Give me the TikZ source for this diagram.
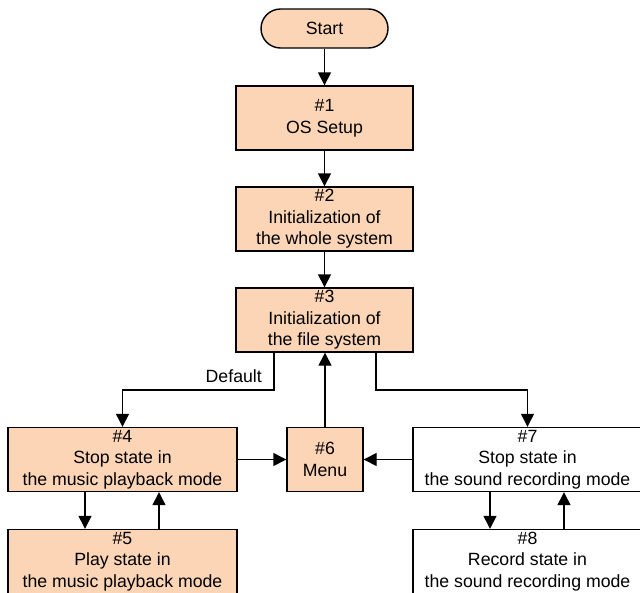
\documentclass[tikz,border=0pt]{standalone}
\usepackage{fontspec}
\setmainfont{Liberation Sans}
\usetikzlibrary{arrows.meta}
\definecolor{peach}{HTML}{FBD5B5}
\tikzset{
  box/.style={draw=black, line width=1.4pt, minimum width=177pt, minimum height=64pt, align=center, inner sep=1pt, font=\fontsize{17.7}{21.5}\selectfont},
  filled/.style={box, fill=peach},
  wide/.style={minimum width=229pt},
  arr/.style={line width=1.4pt, -{Triangle[length=13pt,width=13pt]}},
  ln/.style={line width=1.4pt}
}
\begin{document}
\begin{tikzpicture}[x=1pt,y=-1pt]
\useasboundingbox (0,0) rectangle (640,592);
\fill[white] (0,0) rectangle (640,592);
\node[filled, minimum width=127pt, minimum height=39pt, rounded corners=19.5pt] (start) at (324.5,28.5) {Start};
\node[filled] (n1) at (324.5,118) {\#1\\OS Setup};
\node[filled] (n2) at (324.5,219) {\#2\\Initialization of\\the whole system};
\node[filled] (n3) at (324.5,320) {\#3\\Initialization of\\the file system};
\node[filled, wide] (n4) at (122.5,459.5) {\#4\\Stop state in\\the music playback mode};
\node[filled, minimum width=76pt] (n6) at (325,459.5) {\#6\\Menu};
\node[box, wide, fill=white] (n7) at (527.5,459.5) {\#7\\Stop state in\\the sound recording mode};
\node[filled, wide] (n5) at (122.5,561.5) {\#5\\Play state in\\the music playback mode};
\node[box, wide, fill=white] (n8) at (527.5,561.5) {\#8\\Record state in\\the sound recording mode};
\node[font=\fontsize{17.7}{21.5}\selectfont, anchor=east, inner sep=0pt] (deflab) at (262,376) {Default};

\coordinate (dl) at (274,390);
\coordinate (dr) at (376,390);
\coordinate (ca) at (85,0);
\coordinate (cb) at (159,0);
\coordinate (cc) at (490,0);
\coordinate (cd) at (564,0);

\draw[arr] (start) -- (n1);
\draw[arr] (n1) -- (n2);
\draw[arr] (n2) -- (n3);
\draw[arr] (n3.south -| dl) -- (dl) -- (dl -| n4.north) -- (n4.north);
\draw[arr] (n3.south -| dr) -- (dr) -- (dr -| n7.north) -- (n7.north);
\draw[arr] (n6.north) -- (n6.north |- n3.south);
\draw[arr] (n4.east) -- (n6.west);
\draw[arr] (n7.west) -- (n6.east);
\draw[arr] (n4.south -| ca) -- (n5.north -| ca);
\draw[arr] (n5.north -| cb) -- (n4.south -| cb);
\draw[arr] (n7.south -| cc) -- (n8.north -| cc);
\draw[arr] (n8.north -| cd) -- (n7.south -| cd);
\end{tikzpicture}
\end{document}
